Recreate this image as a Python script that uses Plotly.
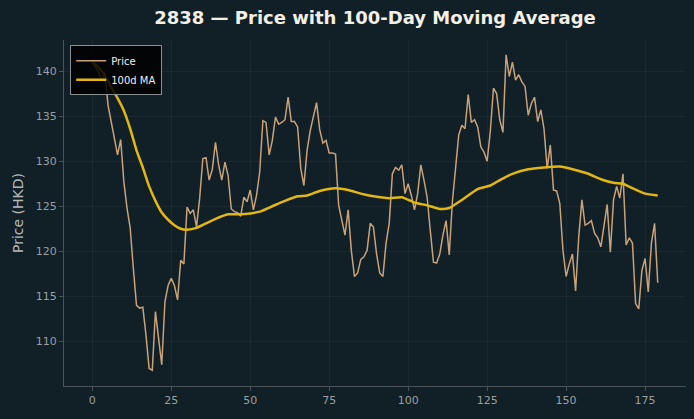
import plotly.graph_objects as go

days = list(range(180))
price = [
    141.0, 140.4, 139.9, 138.9, 139.8, 136.2, 134.3, 132.8, 130.7, 132.4,
    127.7, 124.8, 122.6, 118.1, 114.0, 113.7, 113.8, 110.7, 107.0, 106.8,
    113.3, 110.3, 107.4, 114.4, 116.2, 117.0, 116.2, 114.6, 119.0, 118.6,
    124.9, 124.2, 124.6, 122.7, 125.9, 130.3, 130.4, 127.9, 129.1, 132.1,
    129.6, 127.9, 129.9, 128.4, 124.7, 124.4, 124.3, 123.9, 126.0, 125.5,
    126.8, 124.6, 126.2, 128.8, 134.5, 134.3, 130.7, 132.3, 134.9, 134.1,
    134.3, 134.6, 137.1, 134.4, 134.4, 133.8, 129.2, 127.3, 131.2, 133.4,
    134.9, 136.5, 133.5, 132.0, 132.3, 130.9, 130.9, 130.8, 125.1, 123.4,
    121.8, 124.6, 120.1, 117.2, 117.6, 119.1, 119.4, 120.1, 123.1, 122.7,
    119.7, 117.6, 117.2, 120.9, 123.1, 128.6, 129.3, 129.0, 129.6, 126.4,
    127.5, 126.2, 124.6, 126.4, 129.6, 127.9, 126.0, 122.3, 118.8, 118.7,
    119.7, 121.8, 123.4, 119.6, 125.5, 129.2, 132.9, 134.0, 133.6, 137.4,
    134.3, 134.6, 133.8, 131.6, 131.0, 130.0, 133.3, 138.1, 137.5, 134.6,
    133.2, 141.8, 139.4, 141.0, 139.0, 139.6, 138.8, 138.3, 135.1, 136.4,
    137.1, 134.4, 135.7, 133.6, 129.2, 131.8, 126.8, 126.7, 125.3, 120.1,
    117.2, 118.6, 119.7, 115.6, 121.6, 125.7, 122.9, 123.1, 123.4, 122.0,
    121.5, 120.5, 122.7, 125.2, 119.9, 125.7, 127.2, 125.9, 128.6, 120.7,
    121.5, 120.9, 114.2, 113.6, 117.9, 119.2, 115.5, 120.9, 123.1, 116.5,
]

ma_days = [0, 2, 4, 6, 8, 10, 12, 14, 16, 18, 20, 22, 24, 26, 28, 30, 33, 36,
           39, 43, 47, 50, 53, 57, 61, 65, 68, 72, 77, 81, 85, 89, 94, 98, 102,
           106, 110, 113, 117, 122, 126, 129, 133, 138, 143, 148, 152, 157, 161,
           165, 168, 171, 175, 179]
ma_vals = [141.0, 140.4, 139.5, 138.2, 137.0, 135.6, 133.6, 131.2, 129.3, 127.2,
           125.6, 124.3, 123.5, 122.9, 122.5, 122.4, 122.6, 123.1, 123.6, 124.1,
           124.1, 124.2, 124.4, 125.0, 125.6, 126.1, 126.2, 126.7, 127.0, 126.8,
           126.4, 126.1, 125.9, 126.0, 125.4, 125.1, 124.7, 124.8, 125.7, 126.9,
           127.3, 127.9, 128.6, 129.1, 129.3, 129.4, 129.1, 128.6, 128.0, 127.6,
           127.5, 127.0, 126.4, 126.2]

x_ticks = [0, 25, 50, 75, 100, 125, 150, 175]
y_ticks = [110, 115, 120, 125, 130, 135, 140]

BG = "#111f27"
GRID = "rgba(255,255,255,0.045)"
AX = "#4a5458"
TICKC = "#9a9fa3"

fig = go.Figure()
fig.add_trace(go.Scatter(x=days, y=price, mode="lines", name="Price",
                         line=dict(color="#c9a27a", width=1.5)))
fig.add_trace(go.Scatter(x=ma_days, y=ma_vals, mode="lines", name="100d MA",
                         line=dict(color="#e2b714", width=2.5, shape="spline", smoothing=0.5)))

fig.update_layout(
    width=694, height=419,
    paper_bgcolor=BG, plot_bgcolor=BG,
    margin=dict(l=64, r=8, t=40, b=33),
    title=dict(text="<b>2838 — Price with 100-Day Moving Average</b>",
               x=(64 + 686) / 2 / 694, xanchor="center", y=1 - 18 / 419, yanchor="middle",
               font=dict(family="DejaVu Sans", size=18, color="#f2efe6")),
    font=dict(family="DejaVu Sans", color=TICKC),
    showlegend=True,
    legend=dict(x=0.01, y=0.985, xanchor="left", yanchor="top",
                bgcolor="rgba(0,0,0,0.85)", bordercolor="#8a8f92", borderwidth=1,
                font=dict(family="DejaVu Sans", size=10, color="#f0f0f0"),
                itemwidth=30, tracegroupgap=0),
)
fig.update_xaxes(range=[-8.95, 187.95], tickvals=x_ticks, showgrid=True, gridcolor=GRID,
                 zeroline=False, showline=True, linecolor=AX, linewidth=1, mirror=False,
                 ticks="outside", ticklen=4, tickcolor=AX,
                 tickfont=dict(size=11, color=TICKC))
fig.update_yaxes(range=[105.05, 143.45], tickvals=y_ticks, showgrid=True, gridcolor=GRID,
                 zeroline=False, showline=True, linecolor=AX, linewidth=1, mirror=False,
                 ticks="outside", ticklen=4, tickcolor=AX,
                 tickfont=dict(size=11, color=TICKC),
                 title=dict(text="Price (HKD)", font=dict(size=14, color="#b4b8bb"), standoff=8))

fig.write_html("out.html")
